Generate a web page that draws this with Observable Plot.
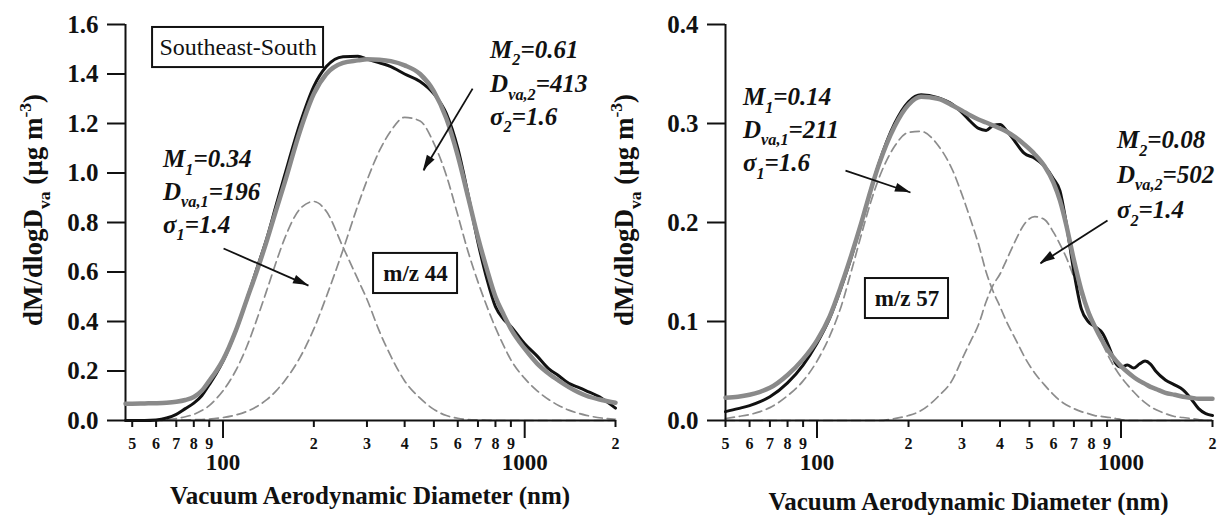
<!DOCTYPE html>
<html><head><meta charset="utf-8">
<script src="https://cdn.jsdelivr.net/npm/d3@7"></script>
<script src="https://cdn.jsdelivr.net/npm/@observablehq/plot@0.6"></script>
<style>
body{margin:0;background:#fff;}
#wrap{position:relative;width:1217px;height:515px;overflow:hidden;background:#fff;}
#wrap svg{position:absolute;top:0;max-width:none;}
</style></head><body><div id="wrap"></div>
<script>
// ---------- Left panel: m/z 44 (Southeast-South) ----------
const diam44 = [47.5,50,55,60,65,70,75,80,85,90,95,100,110,120,130,140,150,160,180,200,220,250,280,300,330,360,400,450,500,550,600,650,700,750,800,850,900,1000,1100,1200,1300,1400,1500,1600,1800,2000];
const meas44 = [0,0,0,0.002,0.01,0.025,0.048,0.07,0.1,0.145,0.19,0.24,0.36,0.49,0.62,0.74,0.87,0.99,1.2,1.35,1.43,1.47,1.472,1.46,1.445,1.43,1.40,1.37,1.32,1.24,1.10,0.91,0.72,0.57,0.46,0.41,0.38,0.31,0.26,0.21,0.18,0.15,0.135,0.12,0.09,0.05];
const fit44 = [0.068,0.068,0.069,0.07,0.072,0.076,0.083,0.095,0.12,0.16,0.2,0.245,0.36,0.49,0.61,0.73,0.85,0.96,1.17,1.32,1.40,1.445,1.455,1.46,1.458,1.452,1.435,1.40,1.33,1.22,1.07,0.90,0.74,0.61,0.50,0.43,0.37,0.29,0.23,0.19,0.16,0.135,0.115,0.10,0.083,0.072];
const mode1_44 = [0,0,0.0005,0.002,0.004,0.008,0.015,0.025,0.04,0.06,0.088,0.12,0.2,0.3,0.415,0.53,0.64,0.735,0.855,0.885,0.845,0.70,0.57,0.49,0.36,0.26,0.16,0.09,0.045,0.02,0.009,0.004,0.002,0.001,0,0,0,0,0,0,0,0,0,0,0,0];
const mode2_44 = [0,0,0,0,0.001,0.001,0.002,0.003,0.004,0.006,0.009,0.012,0.022,0.037,0.058,0.085,0.12,0.16,0.255,0.37,0.50,0.69,0.87,0.97,1.09,1.17,1.225,1.21,1.12,0.99,0.83,0.68,0.56,0.46,0.375,0.305,0.245,0.17,0.12,0.085,0.06,0.042,0.03,0.021,0.01,0.005];

// ---------- Right panel: m/z 57 ----------
const diam57 = [50,55,60,65,70,80,90,100,110,120,130,140,150,160,180,200,220,250,280,300,320,340,360,380,400,420,450,480,520,560,600,630,660,700,740,780,820,870,920,960,1000,1050,1100,1150,1200,1250,1300,1400,1500,1600,1700,1800,1900,2000];
const meas57 = [0.009,0.012,0.015,0.019,0.024,0.038,0.056,0.078,0.103,0.134,0.166,0.2,0.232,0.26,0.3,0.322,0.329,0.326,0.319,0.311,0.302,0.295,0.293,0.298,0.299,0.293,0.281,0.27,0.265,0.257,0.244,0.232,0.2,0.15,0.113,0.1,0.095,0.088,0.072,0.058,0.054,0.056,0.053,0.057,0.06,0.057,0.05,0.041,0.036,0.031,0.022,0.012,0.007,0.005];
const fit57 = [0.023,0.024,0.026,0.029,0.033,0.046,0.062,0.081,0.105,0.136,0.168,0.2,0.232,0.259,0.297,0.319,0.327,0.325,0.318,0.313,0.308,0.304,0.301,0.298,0.295,0.292,0.286,0.279,0.269,0.257,0.24,0.222,0.198,0.162,0.132,0.11,0.095,0.08,0.068,0.061,0.055,0.049,0.044,0.04,0.037,0.034,0.032,0.028,0.026,0.024,0.023,0.022,0.022,0.022];
const mode1_57 = [0.002,0.004,0.006,0.009,0.013,0.025,0.04,0.06,0.085,0.115,0.152,0.188,0.22,0.245,0.277,0.291,0.292,0.278,0.252,0.228,0.203,0.178,0.15,0.13,0.115,0.1,0.082,0.065,0.048,0.036,0.026,0.02,0.016,0.012,0.009,0.007,0.005,0.004,0.003,0.002,0.001,0,0,0,0,0,0,0,0,0,0,0,0,0];
const mode2_57 = [0,0,0,0,0,0,0,0,0,0,0,0,0,0,0.002,0.005,0.01,0.024,0.042,0.062,0.08,0.097,0.12,0.137,0.148,0.162,0.182,0.198,0.206,0.203,0.19,0.178,0.165,0.145,0.127,0.11,0.094,0.077,0.062,0.052,0.044,0.036,0.029,0.023,0.018,0.014,0.011,0.007,0.004,0.003,0.002,0.001,0,0];

// ---------- Tick values and labels ----------
const minorTicks = [50,60,70,80,90,200,300,400,500,600,700,800,900,2000];
const minorLabels = ["5","6","7","8","9","2","3","4","5","6","7","8","9","2"];
const majorTicks = [100,1000];
const majorLabels = ["100","1000"];
const yTicks44 = [0,0.2,0.4,0.6,0.8,1.0,1.2,1.4,1.6];
const yTicks57 = [0,0.1,0.2,0.3,0.4];

const FONT = "'Liberation Serif', 'Times New Roman', 'DejaVu Serif', serif";

function richText(svg, x, y, parts, o = {}) {
  const size = o.size || 24;
  const t = d3.select(svg).append("text")
    .attr("x", x).attr("y", y)
    .style("font-family", FONT).style("font-size", size + "px")
    .style("font-weight", o.weight || "bold")
    .style("font-style", o.style || "italic")
    .attr("text-anchor", o.anchor || "start")
    .attr("fill", "#111");
  if (o.rotate) t.attr("transform", `rotate(-90 ${x} ${y})`);
  let shift = 0;
  for (const [s, k] of parts) {
    const target = k === "sub" ? size * 0.3 : k === "sup" ? -size * 0.42 : 0;
    const ts = t.append("tspan").text(s).attr("dy", target - shift);
    if (k !== "n") ts.style("font-size", (size * 0.65) + "px");
    shift = target;
  }
  return t;
}

function panel(cfg) {
  const rows = cfg.d.map((x, i) => ({d: x, meas: cfg.meas[i], fit: cfg.fit[i], m1: cfg.m1[i], m2: cfg.m2[i]}));
  const dash = {stroke: "#8c8c8c", strokeWidth: 1.7, strokeDasharray: "9,5"};
  const minor = minorTicks.map((t, i) => ({t, s: minorLabels[i]}));
  const major = majorTicks.map((t, i) => ({t, s: majorLabels[i]}));
  const chart = Plot.plot({
    width: cfg.width, height: 515,
    marginLeft: 125, marginRight: cfg.marginRight, marginTop: 24, marginBottom: 95,
    style: {background: "none", fontFamily: FONT, overflow: "visible", color: "#111"},
    x: {type: "log", domain: cfg.xDomain, axis: null},
    y: {domain: cfg.yDomain, axis: null},
    marks: [
      Plot.line(rows, {x: "d", y: "m1", ...dash, curve: "monotone-x"}),
      Plot.line(rows, {x: "d", y: "m2", ...dash, curve: "monotone-x"}),
      Plot.ruleY([cfg.yDomain[0]], {stroke: "#111", strokeWidth: 2}),
      Plot.ruleX([cfg.xDomain[0]], {y1: cfg.yDomain[0], y2: cfg.yDomain[1], stroke: "#111", strokeWidth: 2}),
      Plot.line(rows, {x: "d", y: "meas", stroke: "#111", strokeWidth: 3, curve: "monotone-x"}),
      Plot.line(rows, {x: "d", y: "fit", stroke: "#8a8a8a", strokeWidth: 4.5, curve: "monotone-x"}),
      Plot.axisY({ticks: cfg.yTicks, tickSize: 18, tickPadding: 9, strokeWidth: 2, tickFormat: d3.format(".1f"), fontSize: 25, fontWeight: "bold", fontFamily: FONT, label: null}),
      Plot.axisX({ticks: minorTicks, tickSize: 7, tickPadding: 0, strokeWidth: 2, tickFormat: () => "", label: null}),
      Plot.axisX({ticks: majorTicks, tickSize: 18, tickPadding: 0, strokeWidth: 2, tickFormat: () => "", label: null}),
      Plot.text(minor, {x: "t", frameAnchor: "bottom", text: "s", dy: 17, lineAnchor: "top", fontSize: 16, fontWeight: "bold", fontFamily: FONT, fill: "#111"}),
      Plot.text(major, {x: "t", frameAnchor: "bottom", text: "s", dy: 33, lineAnchor: "top", fontSize: 23, fontWeight: "bold", fontFamily: FONT, fill: "#111"}),
      Plot.rect(cfg.boxes, {x1: "x1", x2: "x2", y1: "y1", y2: "y2", fill: "white", stroke: "#111", strokeWidth: 2}),
      ...cfg.boxes.map(b => Plot.text([b], {x: d => Math.sqrt(d.x1 * d.x2), y: d => (d.y1 + d.y2) / 2, text: "label", fontSize: b.size, fontWeight: b.weight, fontFamily: FONT, fill: "#111"})),
      Plot.link(cfg.arrows, {x1: "x1", y1: "y1", x2: "x2", y2: "y2", stroke: "#111", strokeWidth: 1.8})
    ]
  });
  const sx = chart.scale("x"), sy = chart.scale("y");
  // filled arrowheads at the arrow tips
  for (const a of cfg.arrows) {
    const x1 = sx.apply(a.x1), y1 = sy.apply(a.y1), x2 = sx.apply(a.x2), y2 = sy.apply(a.y2);
    const L = Math.hypot(x2 - x1, y2 - y1), ux = (x2 - x1) / L, uy = (y2 - y1) / L;
    const bx = x2 - ux * 15, by = y2 - uy * 15, w = 4.5;
    d3.select(chart).append("path")
      .attr("d", `M${x2},${y2}L${bx - uy * w},${by + ux * w}L${bx + uy * w},${by - ux * w}Z`)
      .attr("fill", "#111");
  }
  for (const a of cfg.notes) {
    const px = sx.apply(a.x);
    a.lines.forEach((ln, i) => richText(chart, px, sy.apply(a.y[i]), ln, {size: 25}));
  }
  const r = sx.range, y0 = sy.apply(cfg.yDomain[0]);
  richText(chart, (r[0] + r[1]) / 2, y0 + cfg.xTitleDy, [["Vacuum Aerodynamic Diameter (nm)", "n"]], {size: 25, style: "normal", anchor: "middle"});
  richText(chart, cfg.yTitleX, 210, [["dM/dlogD", "n"], ["va", "sub"], [" (\u00b5g m", "n"], ["-3", "sup"], [")", "n"]], {size: 27, style: "normal", anchor: "middle", rotate: true});
  chart.style.left = cfg.left + "px";
  document.getElementById("wrap").appendChild(chart);
}

panel({
  d: diam44, meas: meas44, fit: fit44, m1: mode1_44, m2: mode2_44,
  xDomain: [47.5, 2000], yDomain: [0, 1.6], yTicks: yTicks44,
  width: 640, marginRight: 25, left: 0, xTitleDy: 84, yTitleX: 42,
  boxes: [
    {x1: 58.4, x2: 215.4, y1: 1.426, y2: 1.588, label: "Southeast-South", size: 24, weight: "normal"},
    {x1: 315.5, x2: 599, y1: 0.513, y2: 0.675, label: "m/z 44", size: 23, weight: "bold"}
  ],
  arrows: [
    {x1: 100.4, y1: 0.695, x2: 192, y2: 0.545},
    {x1: 672, y1: 1.341, x2: 462, y2: 1.010}
  ],
  notes: [
    {x: 63.5, y: [1.022, 0.889, 0.756], lines: [
      [["M", "n"], ["1", "sub"], ["=0.34", "n"]],
      [["D", "n"], ["va,1", "sub"], ["=196", "n"]],
      [["\u03c3", "n"], ["1", "sub"], ["=1.4", "n"]]]},
    {x: 771, y: [1.463, 1.325, 1.192], lines: [
      [["M", "n"], ["2", "sub"], ["=0.61", "n"]],
      [["D", "n"], ["va,2", "sub"], ["=413", "n"]],
      [["\u03c3", "n"], ["2", "sub"], ["=1.6", "n"]]]}
  ]
});

panel({
  d: diam57, meas: meas57, fit: fit57, m1: mode1_57, m2: mode2_57,
  xDomain: [50, 2000], yDomain: [0, 0.4], yTicks: yTicks57,
  width: 617, marginRight: 5, left: 600, xTitleDy: 90, yTitleX: 33,
  boxes: [
    {x1: 144.3, x2: 270.8, y1: 0.103, y2: 0.1434, label: "m/z 57", size: 23, weight: "bold"}
  ],
  arrows: [
    {x1: 124.1, y1: 0.2525, x2: 203, y2: 0.2303},
    {x1: 903, y1: 0.202, x2: 543, y2: 0.1586}
  ],
  notes: [
    {x: 57.3, y: [0.318, 0.285, 0.2515], lines: [
      [["M", "n"], ["1", "sub"], ["=0.14", "n"]],
      [["D", "n"], ["va,1", "sub"], ["=211", "n"]],
      [["\u03c3", "n"], ["1", "sub"], ["=1.6", "n"]]]},
    {x: 974, y: [0.2747, 0.2394, 0.204], lines: [
      [["M", "n"], ["2", "sub"], ["=0.08", "n"]],
      [["D", "n"], ["va,2", "sub"], ["=502", "n"]],
      [["\u03c3", "n"], ["2", "sub"], ["=1.4", "n"]]]}
  ]
});
</script></body></html>
